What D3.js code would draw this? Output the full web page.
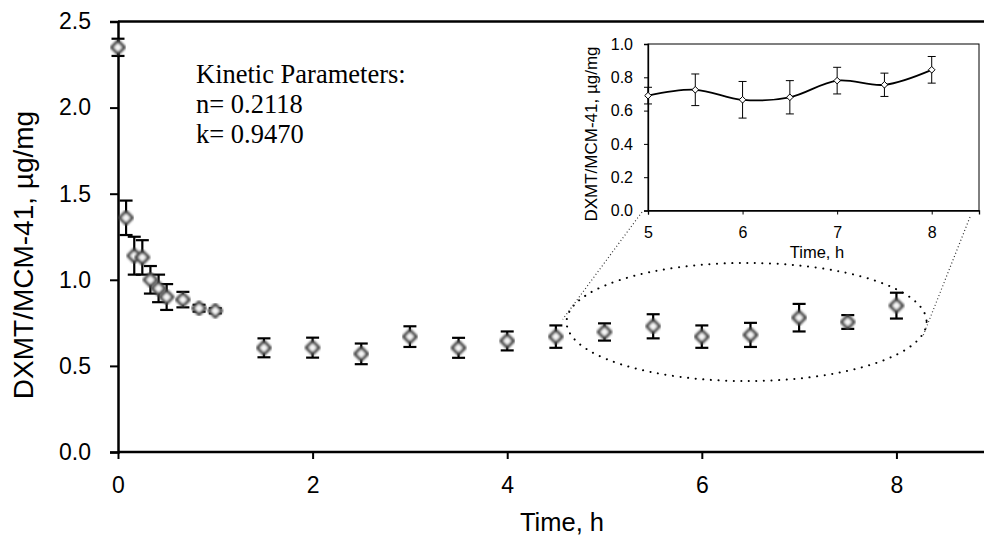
<!DOCTYPE html>
<html>
<head>
<meta charset="utf-8">
<script src="https://cdn.jsdelivr.net/npm/d3@7"></script>
<style>
body { margin: 0; background: #fff; }
</style>
</head>
<body>
<div id="chart"></div>
<script>
var w = 984;
var h = 538;

// main series (time in h, DXMT/MCM-41 in ug/mg, error)
var times = [0, 0.083, 0.167, 0.25, 0.333, 0.417, 0.5, 0.667, 0.833, 1, 1.5, 2, 2.5, 3, 3.5, 4, 4.5, 5, 5.5, 6, 6.5, 7, 7.5, 8];
var values = [2.35, 1.36, 1.14, 1.13, 1.0, 0.95, 0.9, 0.885, 0.835, 0.82, 0.605, 0.606, 0.57, 0.67, 0.605, 0.645, 0.67, 0.697, 0.73, 0.67, 0.68, 0.78, 0.755, 0.85];
var errors = [0.05, 0.1, 0.11, 0.1, 0.08, 0.08, 0.075, 0.045, 0.02, 0.015, 0.055, 0.058, 0.06, 0.06, 0.058, 0.055, 0.065, 0.05, 0.07, 0.065, 0.07, 0.08, 0.04, 0.075];

// inset series (5-8 h)
var insetTimes = [5, 5.5, 6, 6.5, 7, 7.5, 8];
var insetValues = [0.69, 0.725, 0.665, 0.68, 0.78, 0.755, 0.845];
var insetErrors = [0.05, 0.095, 0.11, 0.1, 0.08, 0.07, 0.08];

var xTicks = [0, 2, 4, 6, 8];
var yTicks = [0, 0.5, 1.0, 1.5, 2.0, 2.5];
var insetXTicks = [5, 6, 7, 8];
var insetYTicks = [0, 0.2, 0.4, 0.6, 0.8, 1.0];
var kinetic = ["Kinetic Parameters:", "n= 0.2118", "k= 0.9470"];

var data = times.map(function(t, i){ return {t: t, v: values[i], e: errors[i]}; });
var insetData = insetTimes.map(function(t, i){ return {t: t, v: insetValues[i], e: insetErrors[i]}; });

var svg = d3.select("#chart")
            .append("svg")
            .attr("width", w)
            .attr("height", h)
            .attr("font-family", "Arial, 'Liberation Sans', sans-serif");

var xScale = d3.scaleLinear().domain([0, 8.9]).range([118, 984]);
var yScale = d3.scaleLinear().domain([0, 2.5]).range([452, 21.5]);

// zoom ellipse + connectors (behind everything)
var ell = {cx: 6.46, cy: 0.755, rx: 1.85, ry: 0.343};
svg.append("ellipse")
    .attr("cx", xScale(ell.cx))
    .attr("cy", yScale(ell.cy))
    .attr("rx", xScale(ell.cx + ell.rx) - xScale(ell.cx))
    .attr("ry", yScale(ell.cy) - yScale(ell.cy + ell.ry))
    .attr("fill", "none")
    .attr("stroke", "#000")
    .attr("stroke-width", 2)
    .attr("stroke-linecap", "round")
    .attr("stroke-dasharray", "0.1 7.5");

svg.append("line")
    .attr("x1", 642).attr("y1", 212)
    .attr("x2", xScale(4.57)).attr("y2", yScale(0.77))
    .attr("stroke", "#333").attr("stroke-width", 1.2)
    .attr("stroke-dasharray", "1 2.5");
svg.append("line")
    .attr("x1", 970).attr("y1", 217)
    .attr("x2", xScale(8.27)).attr("y2", yScale(0.67))
    .attr("stroke", "#333").attr("stroke-width", 1.2)
    .attr("stroke-dasharray", "1 2.5");

// axes
var xAxis = d3.axisBottom(xScale).tickValues(xTicks).tickSize(7).tickPadding(18)
    .tickFormat(d3.format("d"));
var yAxis = d3.axisLeft(yScale).tickValues(yTicks).tickSize(8).tickPadding(19)
    .tickFormat(d3.format(".1f"));

var gx = svg.append("g")
    .attr("transform", "translate(0," + yScale(0) + ")")
    .call(xAxis);
var gy = svg.append("g")
    .attr("transform", "translate(" + xScale(0) + ",0)")
    .call(yAxis);
[gx, gy].forEach(function(g){
    g.attr("font-family", null);
    g.select(".domain").attr("stroke-width", 2.5);
    g.selectAll(".tick line").attr("stroke-width", 2);
    g.selectAll("text").attr("font-size", 23).attr("fill", "#000");
});
gx.select(".domain").attr("d", "M118,0H984");

svg.append("line")
    .attr("x1", xScale(0)).attr("y1", yScale(2.5))
    .attr("x2", w).attr("y2", yScale(2.5))
    .attr("stroke", "#000").attr("stroke-width", 2.5);

svg.append("text")
    .attr("x", 562).attr("y", 531)
    .attr("text-anchor", "middle")
    .attr("font-size", 25.5)
    .text("Time, h");
svg.append("text")
    .attr("transform", "translate(33,255) rotate(-90)")
    .attr("text-anchor", "middle")
    .attr("font-size", 28)
    .text("DXMT/MCM-41, \u00b5g/mg");

// error bars
var eb = svg.append("g").attr("stroke", "#000").attr("stroke-width", 2.2);
data.forEach(function(d){
    var x = xScale(d.t);
    eb.append("line").attr("x1", x).attr("x2", x).attr("y1", yScale(d.v + d.e)).attr("y2", yScale(d.v - d.e));
    eb.append("line").attr("x1", x - 6.5).attr("x2", x + 6.5).attr("y1", yScale(d.v + d.e)).attr("y2", yScale(d.v + d.e));
    eb.append("line").attr("x1", x - 6.5).attr("x2", x + 6.5).attr("y1", yScale(d.v - d.e)).attr("y2", yScale(d.v - d.e));
});

// diamond markers
var defs = svg.append("defs");
defs.append("filter").attr("id", "soft")
    .append("feGaussianBlur").attr("stdDeviation", 0.8);
var diamond = d3.symbol().type(d3.symbolDiamond2).size(105);
svg.append("g").selectAll("path")
    .data(data)
    .enter().append("path")
    .attr("d", diamond)
    .attr("transform", function(d){ return "translate(" + xScale(d.t) + "," + yScale(d.v) + ")"; })
    .attr("fill", "#f6f6f6")
    .attr("stroke", "#444")
    .attr("stroke-width", 3)
    .attr("stroke-linejoin", "round")
    .attr("filter", "url(#soft)");

// kinetic text
svg.append("g").selectAll("text")
    .data(kinetic)
    .enter().append("text")
    .attr("x", 196)
    .attr("y", function(d, i){ return 83 + i * 30; })
    .attr("font-family", "'Liberation Serif', 'Times New Roman', serif")
    .attr("font-size", 26.5)
    .text(function(d){ return d; });

// inset
var ix = d3.scaleLinear().domain([5, 8.5]).range([648, 979]);
var iy = d3.scaleLinear().domain([0, 1]).range([210.5, 44]);
var inset = svg.append("g");
inset.append("rect")
    .attr("x", ix(5)).attr("y", iy(1))
    .attr("width", ix(8.5) - ix(5)).attr("height", iy(0) - iy(1))
    .attr("fill", "#fff").attr("stroke", "#000").attr("stroke-width", 1);

var gix = inset.append("g")
    .attr("transform", "translate(0," + iy(0) + ")")
    .call(d3.axisBottom(ix).tickValues(insetXTicks).tickSize(4).tickPadding(12).tickFormat(d3.format("d")));
var giy = inset.append("g")
    .attr("transform", "translate(" + ix(5) + ",0)")
    .call(d3.axisLeft(iy).tickValues(insetYTicks).tickSize(4).tickPadding(11).tickFormat(d3.format(".1f")));
[gix, giy].forEach(function(g){
    g.attr("font-family", null);
    g.select(".domain").attr("stroke-width", 1.3);
    g.selectAll("text").attr("font-size", 16).attr("fill", "#000");
});
inset.append("text")
    .attr("x", 817).attr("y", 258)
    .attr("text-anchor", "middle").attr("font-size", 16.5)
    .text("Time, h");
inset.append("text")
    .attr("transform", "translate(597,134) rotate(-90)")
    .attr("text-anchor", "middle").attr("font-size", 17)
    .text("DXMT/MCM-41, \u00b5g/mg");

var ieb = inset.append("g").attr("stroke", "#000").attr("stroke-width", 1);
insetData.forEach(function(d){
    var x = ix(d.t);
    ieb.append("line").attr("x1", x).attr("x2", x).attr("y1", iy(d.v + d.e)).attr("y2", iy(d.v - d.e));
    ieb.append("line").attr("x1", x - 4).attr("x2", x + 4).attr("y1", iy(d.v + d.e)).attr("y2", iy(d.v + d.e));
    ieb.append("line").attr("x1", x - 4).attr("x2", x + 4).attr("y1", iy(d.v - d.e)).attr("y2", iy(d.v - d.e));
});
var curve = d3.line()
    .x(function(d){ return ix(d.t); })
    .y(function(d){ return iy(d.v); })
    .curve(d3.curveCatmullRom.alpha(0.5));
inset.append("path")
    .datum(insetData)
    .attr("d", curve)
    .attr("fill", "none")
    .attr("stroke", "#000")
    .attr("stroke-width", 1.8);
inset.append("g").selectAll("path")
    .data(insetData)
    .enter().append("path")
    .attr("d", d3.symbol().type(d3.symbolDiamond2).size(28))
    .attr("transform", function(d){ return "translate(" + ix(d.t) + "," + iy(d.v) + ")"; })
    .attr("fill", "#fff")
    .attr("stroke", "#000")
    .attr("stroke-width", 1);
</script>
</body>
</html>
